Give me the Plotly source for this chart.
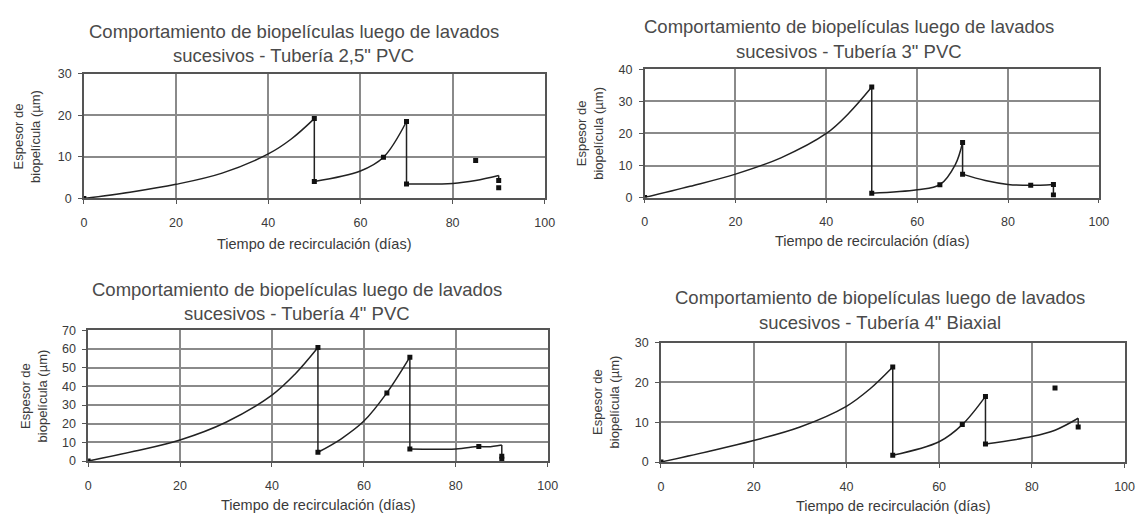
import plotly.graph_objects as go

# ---------------- data ----------------
x_ticks = [0, 20, 40, 60, 80, 100]

# Panel 1: Tubería 2,5" PVC
p1_line_x = [0, 10, 20, 30, 40, 45, 50, None, 50, 50, None, 50, 60, 65, 70, None, 70, 70, None, 70, 80, 85, 90, None, 90, 90]
p1_line_y = [0, 1.5, 3.4, 6.1, 10.7, 14.3, 19.2, None, 19.2, 4.1, None, 4.1, 6.6, 9.9, 18.5, None, 18.5, 3.5, None, 3.5, 3.6, 4.3, 5.5, None, 5.5, 4.3]
p1_pts_x = [0, 50, 50, 65, 70, 70, 85, 90, 90]
p1_pts_y = [0, 19.2, 4.1, 9.9, 18.5, 3.5, 9.1, 4.3, 2.6]

# Panel 2: Tubería 3" PVC
p2_line_x = [0, 10, 20, 30, 40, 45, 50, None, 50, 50, None, 50, 60, 65, 68.4, 70, None, 70, 70, None, 70, 75, 80, 85, 90, None, 90, 90]
p2_line_y = [0, 3.5, 7.3, 12.4, 20.0, 26.4, 34.5, None, 34.5, 1.3, None, 1.3, 2.4, 4.0, 10.3, 17.2, None, 17.2, 7.3, None, 7.3, 5.3, 4.1, 3.8, 4.1, None, 4.1, 0.8]
p2_pts_x = [0, 50, 50, 65, 70, 70, 85, 90, 90]
p2_pts_y = [0, 34.5, 1.3, 4.0, 17.2, 7.3, 3.8, 4.1, 0.8]

# Panel 3: Tubería 4" PVC
p3_line_x = [0, 10, 20, 30, 40, 45, 50, None, 50, 50, None, 50, 55, 60, 65, 70, None, 70, 70, None, 70, 80, 85, 87, 90, None, 90, 90]
p3_line_y = [0, 5.2, 11.3, 20.8, 35.3, 46.5, 60.8, None, 60.8, 4.7, None, 4.7, 11.8, 21.4, 36.5, 55.6, None, 55.6, 6.4, None, 6.4, 6.5, 7.8, 7.6, 8.6, None, 8.6, 2.5]
p3_pts_x = [0, 50, 50, 65, 70, 70, 85, 90, 90]
p3_pts_y = [0, 60.8, 4.7, 36.5, 55.6, 6.4, 7.8, 2.5, 1.0]

# Panel 4: Tubería 4" Biaxial
p4_line_x = [0, 10, 20, 30, 40, 45, 50, None, 50, 50, None, 50, 60, 65, 70, None, 70, 70, None, 70, 80, 85, 90, None, 90, 90]
p4_line_y = [0, 2.6, 5.4, 8.8, 14.0, 18.3, 23.9, None, 23.9, 1.7, None, 1.7, 5.1, 9.4, 16.5, None, 16.5, 4.5, None, 4.5, 6.4, 8.0, 11.0, None, 11.0, 8.8]
p4_pts_x = [0, 50, 50, 65, 70, 70, 85, 90]
p4_pts_y = [0, 23.9, 1.7, 9.4, 16.5, 4.5, 18.6, 8.8]

y_ticks = [[0, 10, 20, 30], [0, 10, 20, 30, 40], [0, 10, 20, 30, 40, 50, 60, 70], [0, 10, 20, 30]]
titles = [
    "Comportamiento de biopelículas luego de lavados<br>sucesivos - Tubería 2,5\" PVC",
    "Comportamiento de biopelículas luego de lavados<br>sucesivos - Tubería 3\" PVC",
    "Comportamiento de biopelículas luego de lavados<br>sucesivos - Tubería 4\" PVC",
    "Comportamiento de biopelículas luego de lavados<br>sucesivos - Tubería 4\" Biaxial",
]
x_title = "Tiempo de recirculación (días)"
y_title = "Espesor de<br>biopelícula (µm)"

# ---------------- layout ----------------
# The page body has an 8px margin; the figure is sized so that it fills the
# 1147x523 window exactly, and all positions below are window pixels.
OFF = 8
W, H = 1147 - 2 * OFF, 523 - 2 * OFF
boxes = [(81.7, 548, 68.3, 196.7), (649, 1108.5, 64, 195.7), (86, 551, 332.3, 466.7), (665.5, 1134.5, 345, 467.7)]
title_pos = [(294, 25, 50), (856, 20, 46), (297, 290, 315), (887, 299, 324)]
xtitle_y = [243, 240, 512, 513]
ytitle_x = [24, 594, 31, 610]

FONT = "Liberation Sans, Arial, sans-serif"
GRID = "#8a8a8a"
TXT = "#3a3a3a"


def px(x):
    return (x - OFF) / W


def py(y):
    return 1 - (y - OFF) / H


fig = go.Figure()
lines = [(p1_line_x, p1_line_y), (p2_line_x, p2_line_y), (p3_line_x, p3_line_y), (p4_line_x, p4_line_y)]
pts = [(p1_pts_x, p1_pts_y), (p2_pts_x, p2_pts_y), (p3_pts_x, p3_pts_y), (p4_pts_x, p4_pts_y)]

for i in range(4):
    sfx = "" if i == 0 else str(i + 1)
    lx, ly = lines[i]
    mx, my = pts[i]
    fig.add_trace(go.Scatter(x=lx, y=ly, mode="lines", xaxis="x" + sfx, yaxis="y" + sfx,
                             line=dict(color="#222222", width=1.5, shape="spline", smoothing=1.0),
                             connectgaps=False, showlegend=False, hoverinfo="skip"))
    fig.add_trace(go.Scatter(x=mx, y=my, mode="markers", xaxis="x" + sfx, yaxis="y" + sfx,
                             marker=dict(color="#111111", size=5, symbol="square"),
                             showlegend=False))
    l, r, t, b = boxes[i]
    yt = y_ticks[i]
    fig.layout["xaxis" + sfx] = dict(domain=[px(l), px(r)], anchor="y" + sfx, range=[0, 100],
                                     tickvals=x_ticks, ticks="outside", ticklen=4, tickcolor="#555",
                                     showgrid=True, gridcolor=GRID, gridwidth=1.6,
                                     showline=True, linecolor="#555", linewidth=1.5, mirror=True,
                                     zeroline=False, fixedrange=True,
                                     tickfont=dict(family=FONT, size=12.5, color=TXT), ticklabelstandoff=8)
    fig.layout["yaxis" + sfx] = dict(domain=[py(b), py(t)], anchor="x" + sfx, range=[0, yt[-1]],
                                     tickvals=yt, ticks="outside", ticklen=4, tickcolor="#555",
                                     showgrid=True, gridcolor=GRID, gridwidth=1.6,
                                     showline=True, linecolor="#555", linewidth=1.5, mirror=True,
                                     zeroline=False, fixedrange=True,
                                     tickfont=dict(family=FONT, size=12.5, color=TXT), ticklabelstandoff=4)
    cx, ty1, ty2 = title_pos[i]
    l1, l2 = titles[i].split("<br>")
    for txt, ty in ((l1, ty1), (l2, ty2)):
        fig.add_annotation(x=px(cx), y=py(ty), xref="paper", yref="paper", text=txt, showarrow=False,
                           xanchor="center", yanchor="middle", font=dict(family=FONT, size=18.5, color="#4a4a4a"))
    fig.add_annotation(x=px((l + r) / 2), y=py(xtitle_y[i]), xref="paper", yref="paper", text=x_title,
                       showarrow=False, xanchor="center", yanchor="middle",
                       font=dict(family=FONT, size=14.5, color=TXT))
    fig.add_annotation(x=px(ytitle_x[i]), y=py((t + b) / 2), xref="paper", yref="paper", text=y_title,
                       showarrow=False, xanchor="center", yanchor="middle", textangle=-90,
                       font=dict(family=FONT, size=13, color=TXT))

fig.update_layout(width=W, height=H, margin=dict(l=0, r=0, t=0, b=0),
                  paper_bgcolor="white", plot_bgcolor="white", showlegend=False)

fig.write_html("out.html")
